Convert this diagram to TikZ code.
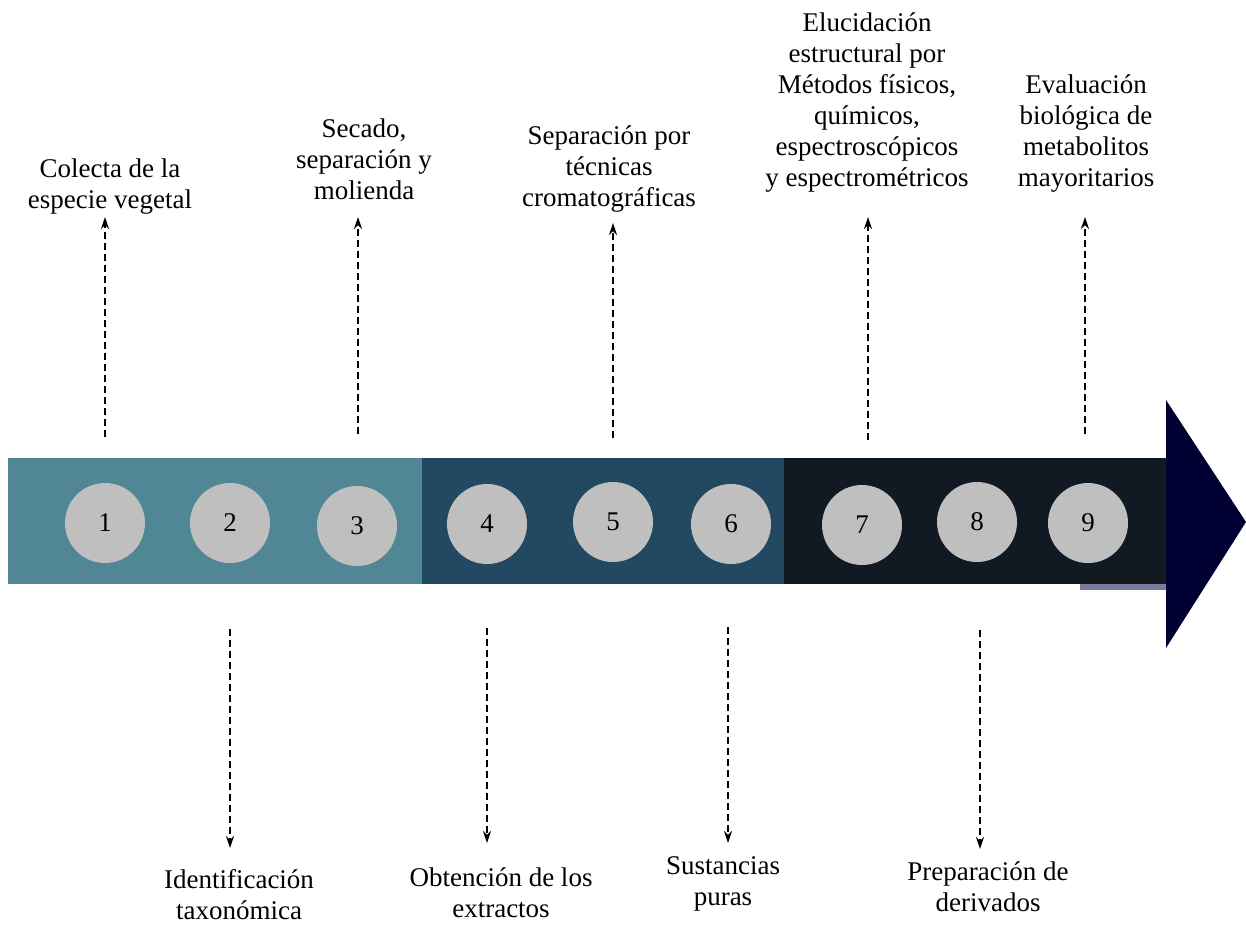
\documentclass[tikz,border=0pt]{standalone}
\usepackage{fontspec}
\setmainfont{Liberation Serif}
\usetikzlibrary{arrows.meta}

\definecolor{tramoA}{HTML}{518794}
\definecolor{tramoB}{HTML}{234862}
\definecolor{tramoC}{HTML}{111923}
\definecolor{punta}{HTML}{000033}
\definecolor{franja}{HTML}{7B7B9B}
\definecolor{gris}{HTML}{BFBFBF}

\begin{document}
\begin{tikzpicture}[x=1pt, y=-1pt,
        paso/.style={circle, fill=gris, minimum size=80pt, inner sep=0pt, font={\fontsize{27}{31}\selectfont}},
        etiqueta/.style={align=center, inner xsep=0pt, font={\fontsize{27}{31}\selectfont}},
        flecha/.style={-{Stealth[length=12pt, width=8pt]}, dash pattern=on 7pt off 4pt, line width=1.8pt}
    ]
        \useasboundingbox (0,0) rectangle (1246,924);

        % banda de tres tramos y punta
        \fill[tramoA] (8,458) rectangle (422,584);
        \fill[tramoB] (422,458) rectangle (784,584);
        \fill[tramoC] (784,458) rectangle (1168,584);
        \fill[franja] (1080,584) rectangle (1168,590);
        \fill[punta] (1166,400) -- (1246,522) -- (1166,648) -- cycle;

        \node[paso] (c1) at (105,523) {1};
        \node[paso] (c2) at (230,523) {2};
        \node[paso] (c3) at (357,526) {3};
        \node[paso] (c4) at (487,524) {4};
        \node[paso] (c5) at (613,522) {5};
        \node[paso] (c6) at (731,524) {6};
        \node[paso] (c7) at (862,525) {7};
        \node[paso] (c8) at (977,522) {8};
        \node[paso] (c9) at (1088,523) {9};

        \coordinate (s1) at (105,437);
        \coordinate (s2) at (230,629);
        \coordinate (s3) at (358,434);
        \coordinate (s4) at (487,628);
        \coordinate (s5) at (613,438);
        \coordinate (s6) at (728,627);
        \coordinate (s7) at (868,440);
        \coordinate (s8) at (980,630);
        \coordinate (s9) at (1085,434);

        \node[etiqueta, anchor=south, inner ysep=2pt] (l1) at (110,217) {Colecta de la\\especie vegetal};
        \node[etiqueta, anchor=south, inner ysep=17pt] (l3) at (364,217) {Secado,\\separación y\\molienda};
        \node[etiqueta, anchor=south, inner ysep=10pt] (l5) at (609,223) {Separación por\\técnicas\\cromatográficas};
        \node[etiqueta, anchor=south, inner ysep=24pt] (l7) at (867,217) {Elucidación\\estructural por\\Métodos físicos,\\químicos,\\espectroscópicos\\y espectrométricos};
        \node[etiqueta, anchor=south, inner ysep=24pt] (l9) at (1086,217) {Evaluación\\biológica de\\metabolitos\\mayoritarios};

        \node[etiqueta, anchor=north, inner ysep=21pt] (l2) at (239,848) {Identificación\\taxonómica};
        \node[etiqueta, anchor=north, inner ysep=25pt] (l4) at (501,843) {Obtención de los\\extractos};
        \node[etiqueta, anchor=north, inner ysep=13.5pt] (l6) at (723,843) {Sustancias\\puras};
        \node[etiqueta, anchor=north, inner ysep=12.5pt] (l8) at (988,849) {Preparación de\\derivados};

        \foreach \i in {1,3,5,7,9}
            \draw[flecha] (s\i) -- (s\i |- l\i.south);
        \foreach \i in {2,4,6,8}
            \draw[flecha] (s\i) -- (s\i |- l\i.north);
    \end{tikzpicture}
\end{document}
